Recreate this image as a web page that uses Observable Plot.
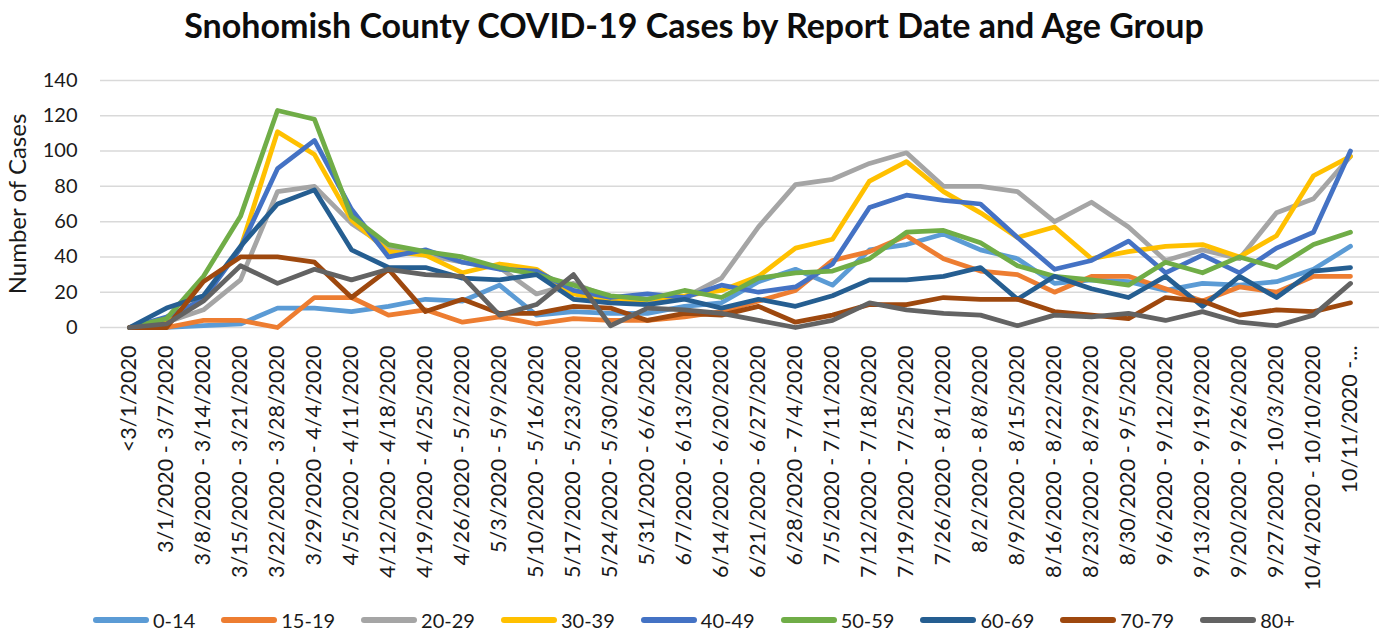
<!DOCTYPE html>
<html><head><meta charset="utf-8">
<script src="https://cdn.jsdelivr.net/npm/d3@7"></script>
<script src="https://cdn.jsdelivr.net/npm/@observablehq/plot@0.6"></script>
<style>
body{margin:0;background:#fff;font-family:Lato,sans-serif;color:#1a1a1a;width:1388px;height:633px;overflow:hidden;}
#title{height:49px;line-height:49px;text-align:center;font-weight:bold;font-size:34px;color:#0d0d0d;}
#chart{height:555px;}
#legend{display:flex;justify-content:center;align-items:center;height:32px;font-size:20px;color:#1a1a1a;}
.item{display:flex;align-items:center;margin:0 13px;}
.item svg{margin-right:4px;}
</style></head><body>
<div id="title">Snohomish County COVID-19 Cases by Report Date and Age Group</div>
<div id="chart"></div>
<div id="legend"></div>
<script>
const weeks = ["<3/1/2020","3/1/2020 - 3/7/2020","3/8/2020 - 3/14/2020","3/15/2020 - 3/21/2020","3/22/2020 - 3/28/2020","3/29/2020 - 4/4/2020","4/5/2020 - 4/11/2020","4/12/2020 - 4/18/2020","4/19/2020 - 4/25/2020","4/26/2020 - 5/2/2020","5/3/2020 - 5/9/2020","5/10/2020 - 5/16/2020","5/17/2020 - 5/23/2020","5/24/2020 - 5/30/2020","5/31/2020 - 6/6/2020","6/7/2020 - 6/13/2020","6/14/2020 - 6/20/2020","6/21/2020 - 6/27/2020","6/28/2020 - 7/4/2020","7/5/2020 - 7/11/2020","7/12/2020 - 7/18/2020","7/19/2020 - 7/25/2020","7/26/2020 - 8/1/2020","8/2/2020 - 8/8/2020","8/9/2020 - 8/15/2020","8/16/2020 - 8/22/2020","8/23/2020 - 8/29/2020","8/30/2020 - 9/5/2020","9/6/2020 - 9/12/2020","9/13/2020 - 9/19/2020","9/20/2020 - 9/26/2020","9/27/2020 - 10/3/2020","10/4/2020 - 10/10/2020","10/11/2020 -..."];
const groups = ["0-14","15-19","20-29","30-39","40-49","50-59","60-69","70-79","80+"];
const colors = ["#5B9BD5","#ED7D31","#A5A5A5","#FFC000","#4472C4","#70AD47","#255E91","#9E480E","#636363"];
const age0_14  = [0,0,1,2,11,11,9,12,16,15,24,7,9,8,8,12,14,26,33,24,44,47,53,44,39,25,27,26,21,25,24,26,33,46];
const age15_19 = [0,0,4,4,0,17,17,7,10,3,6,2,5,4,4,6,9,15,21,38,43,52,39,32,30,20,29,29,22,15,23,20,29,29];
const age20_29 = [0,3,10,27,77,80,59,45,41,37,34,19,25,17,15,17,28,57,81,84,93,99,80,80,77,60,71,57,38,44,39,65,73,97];
const age30_39 = [0,3,17,45,111,98,61,43,41,31,36,33,19,15,16,18,21,29,45,50,83,94,77,65,51,57,39,43,46,47,40,52,86,97];
const age40_49 = [0,6,16,45,90,106,67,40,44,37,33,32,21,17,19,17,24,20,23,36,68,75,72,70,51,33,38,49,31,41,31,45,54,100];
const age50_59 = [0,5,29,63,123,118,63,47,43,40,34,30,24,18,16,21,17,28,31,32,39,54,55,48,35,29,27,24,37,31,40,34,47,54];
const age60_69 = [0,11,18,46,70,78,44,34,34,28,27,30,16,14,13,16,11,16,12,18,27,27,29,34,16,29,22,17,29,12,29,17,32,34];
const age70_79 = [0,0,26,40,40,37,17,33,9,16,8,8,12,11,4,8,7,12,3,7,13,13,17,16,16,9,7,5,17,15,7,10,9,14];
const age80p   = [0,2,15,35,25,33,27,33,30,29,7,13,30,1,11,10,8,4,0,4,14,10,8,7,1,7,6,8,4,9,3,1,7,25];
const yTicks = [0,20,40,60,80,100,120,140];
const yTitle = "Number of Cases";

const series = [age0_14,age15_19,age20_29,age30_39,age40_49,age50_59,age60_69,age70_79,age80p];
const data = [];
groups.forEach((g,gi)=>{ series[gi].forEach((v,i)=>data.push({week:weeks[i],group:g,cases:v})); });

const chart = Plot.plot({
  width:1388, height:555,
  marginTop:31, marginBottom:277, marginLeft:100, marginRight:9,
  style:{fontFamily:"Lato, sans-serif", fontSize:"20px", color:"#1a1a1a", background:"transparent"},
  x:{type:"point", domain:weeks, padding:0.5, label:null},
  y:{domain:[0,140], label:null},
  color:{domain:groups, range:colors},
  marks:[
    Plot.gridY(yTicks, {stroke:"#d9d9d9", strokeOpacity:1, strokeWidth:1.5}),
    Plot.axisY(yTicks, {tickSize:0, tickPadding:23, label:null, fontSize:20}),
    Plot.axisX({tickSize:0, tickRotate:-90, tickPadding:18, label:null, fontSize:21.5}),
    Plot.line(data, {x:"week", y:"cases", z:"group", stroke:"group", strokeWidth:4.75, strokeLinejoin:"round", strokeLinecap:"round"}),
    Plot.text([yTitle], {frameAnchor:"left", dx:-82, rotate:-90, textAnchor:"middle", lineAnchor:"middle", fontSize:24, fill:"#1a1a1a"})
  ]
});
document.getElementById("chart").appendChild(chart);

const legend = document.getElementById("legend");
groups.forEach((g,i)=>{
  const item = document.createElement("div");
  item.className = "item";
  item.innerHTML = `<svg width="56" height="10"><line x1="3" y1="5" x2="53" y2="5" stroke="${colors[i]}" stroke-width="6" stroke-linecap="round"/></svg><span>${g}</span>`;
  legend.appendChild(item);
});
</script>
</body></html>
